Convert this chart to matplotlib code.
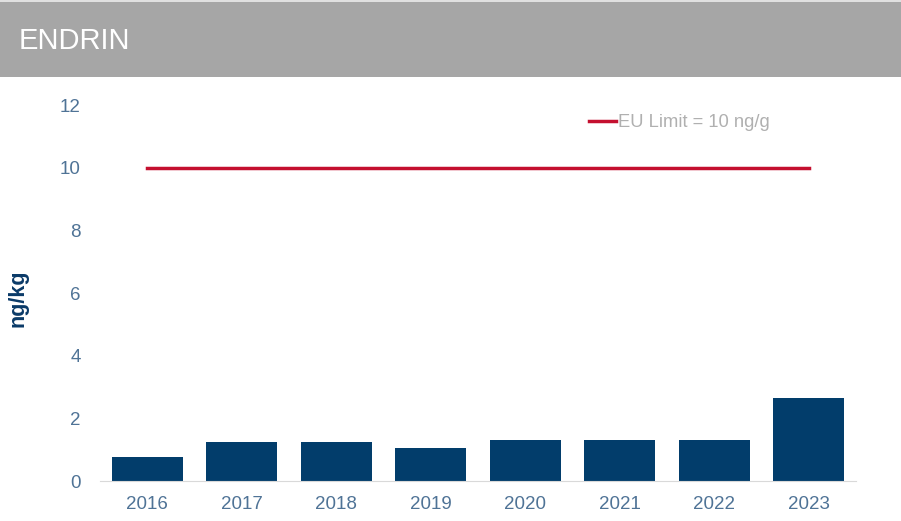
import matplotlib
matplotlib.use("Agg")
import matplotlib.pyplot as plt
from matplotlib.patches import Rectangle

years = ["2016", "2017", "2018", "2019", "2020", "2021", "2022", "2023"]
values = [0.76, 1.23, 1.24, 1.06, 1.30, 1.30, 1.30, 2.66]
eu_limit = 10
yticks = [0, 2, 4, 6, 8, 10, 12]

plt.rcParams["font.family"] = ["Liberation Sans", "DejaVu Sans"]

W, H = 901, 521
fig = plt.figure(figsize=(W / 100, H / 100), dpi=100)
fig.patch.set_facecolor("white")

# header band
fig.patches.append(Rectangle((0, (H - 77) / H), 1, 75 / H, transform=fig.transFigure,
                             facecolor="#a6a6a6", edgecolor="none", zorder=0))
fig.patches.append(Rectangle((0, (H - 2) / H), 1, 2 / H, transform=fig.transFigure,
                             facecolor="#e0e0e0", edgecolor="none", zorder=0))
fig.text(19 / W, (H - 41) / H, "ENDRIN", color="white", fontsize=21,
         va="center", ha="left")

ax = fig.add_axes([100 / W, 40 / H, 756 / W, 376 / H])
x = list(range(len(years)))
ax.bar(x, values, width=0.75, color="#023d6b", zorder=2)
ax.plot([x[0], x[-1]], [eu_limit, eu_limit], color="#c4102f", lw=2.5,
        label="EU Limit = 10 ng/g", zorder=3)

ax.set_xlim(-0.5, len(years) - 0.5)
ax.set_ylim(0, 12)
ax.set_yticks(yticks)
ax.set_xticks(x)
ax.set_xticklabels(years)
ax.tick_params(length=0, labelsize=13.5, labelcolor="#4f7396")
ax.tick_params(axis="y", pad=14)
ax.tick_params(axis="x", pad=11)
for s in ["top", "right", "left"]:
    ax.spines[s].set_visible(False)
ax.spines["bottom"].set_color("#d9d9d9")
ax.set_facecolor("none")

fig.text(18 / W, (H - 298) / H, "ng/kg", rotation=90, color="#0a3a68",
         fontsize=15.5, fontweight="bold", va="center", ha="center")

leg = ax.legend(loc="upper right", bbox_to_anchor=(0.908, 1.02), frameon=False,
                fontsize=13.2, handlelength=1.5, handletextpad=0.1)
for t in leg.get_texts():
    t.set_color("#b0b0b0")

fig.savefig("out.png", dpi=100)
